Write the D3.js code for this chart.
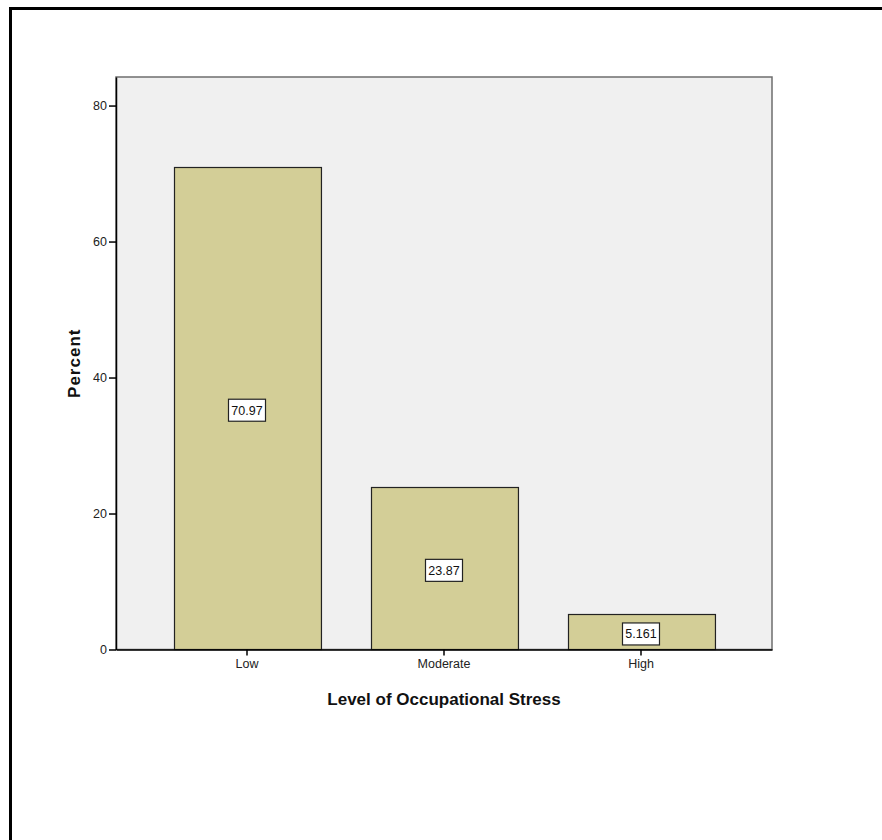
<!DOCTYPE html>
<html>
<head>
<meta charset="utf-8">
<script src="https://cdn.jsdelivr.net/npm/d3@7"></script>
<style>
  html, body { margin: 0; padding: 0; background: #fff; }
  svg { display: block; }
  text { font-family: "Liberation Sans", Arial, sans-serif; }
</style>
</head>
<body>
<script>
const categories = ["Low", "Moderate", "High"];
const values = [70.97, 23.87, 5.161];
const valueLabels = ["70.97", "23.87", "5.161"];
const yTicks = [0, 20, 40, 60, 80];
const xTitle = "Level of Occupational Stress";
const yTitle = "Percent";

const W = 882, H = 840;
const svg = d3.select("body").append("svg").attr("width", W).attr("height", H);

// outer frame (top and left edges visible)
svg.append("line").attr("x1", 10).attr("x2", W).attr("y1", 8.5).attr("y2", 8.5)
  .attr("stroke", "#000").attr("stroke-width", 3);
svg.append("line").attr("x1", 10.5).attr("x2", 10.5).attr("y1", 7).attr("y2", H)
  .attr("stroke", "#000").attr("stroke-width", 3);

const pLeft = 116, pRight = 772, pTop = 77, pBottom = 649.5;

const x = d3.scaleBand().domain(categories).range([pLeft, pRight])
  .paddingInner(0.254).paddingOuter(0.292);
const y = d3.scaleLinear().domain([0, 84.2]).range([pBottom, pTop]);

// plot background
svg.append("rect").attr("x", pLeft).attr("y", pTop)
  .attr("width", pRight - pLeft).attr("height", pBottom - pTop)
  .attr("fill", "#f0f0f0").attr("stroke", "#6e6e6e").attr("stroke-width", 1.5);

// bars
svg.append("g").selectAll("rect").data(values).join("rect")
  .attr("x", (d, i) => Math.round(x(categories[i])) + 0.5)
  .attr("y", d => Math.round(y(d)) + 0.5)
  .attr("width", x.bandwidth())
  .attr("height", d => pBottom - Math.round(y(d)) - 0.5)
  .attr("fill", "#d3ce97").attr("stroke", "#222").attr("stroke-width", 1.2);

// value labels
const lab = svg.append("g").selectAll("g").data(values).join("g")
  .attr("transform", (d, i) => `translate(${x(categories[i]) + x.bandwidth() / 2},${(y(d) + pBottom) / 2 + 2})`);
lab.append("rect").attr("x", -18.5).attr("y", -11).attr("width", 37).attr("height", 22)
  .attr("fill", "#fff").attr("stroke", "#222").attr("stroke-width", 1.2);
lab.append("text").attr("text-anchor", "middle").attr("dy", "0.36em")
  .attr("font-size", 12.5).attr("fill", "#111")
  .text((d, i) => valueLabels[i]);

// y axis
const yAxis = svg.append("g").attr("transform", `translate(${pLeft},0)`)
  .call(d3.axisLeft(y).tickValues(yTicks).tickSize(7).tickSizeOuter(0).tickPadding(2).tickFormat(d3.format("d")));
yAxis.select(".domain").attr("stroke", "#000").attr("stroke-width", 1.5);
yAxis.selectAll(".tick line").attr("stroke", "#000").attr("stroke-width", 1.5);
yAxis.selectAll(".tick text").attr("font-size", 12.5).attr("fill", "#222")
  .attr("font-family", "'Liberation Sans', Arial, sans-serif");

// x axis
const xAxis = svg.append("g").attr("transform", `translate(0,${pBottom})`)
  .call(d3.axisBottom(x).tickSize(6).tickPadding(4).tickSizeOuter(0));
xAxis.select(".domain").attr("stroke", "#000").attr("stroke-width", 1.5);
xAxis.selectAll(".tick line").attr("stroke", "#000").attr("stroke-width", 1.5);
xAxis.selectAll(".tick text").attr("font-size", 12.5).attr("fill", "#222")
  .attr("font-family", "'Liberation Sans', Arial, sans-serif");

// titles
svg.append("text").attr("x", (pLeft + pRight) / 2).attr("y", 705)
  .attr("text-anchor", "middle").attr("font-size", 17).attr("font-weight", "bold")
  .attr("fill", "#111").text(xTitle);
svg.append("text").attr("transform", `translate(80,${(pTop + pBottom) / 2})rotate(-90)`)
  .attr("text-anchor", "middle").attr("font-size", 17).attr("font-weight", "bold")
  .attr("letter-spacing", 1).attr("fill", "#111").text(yTitle);
</script>
</body>
</html>
